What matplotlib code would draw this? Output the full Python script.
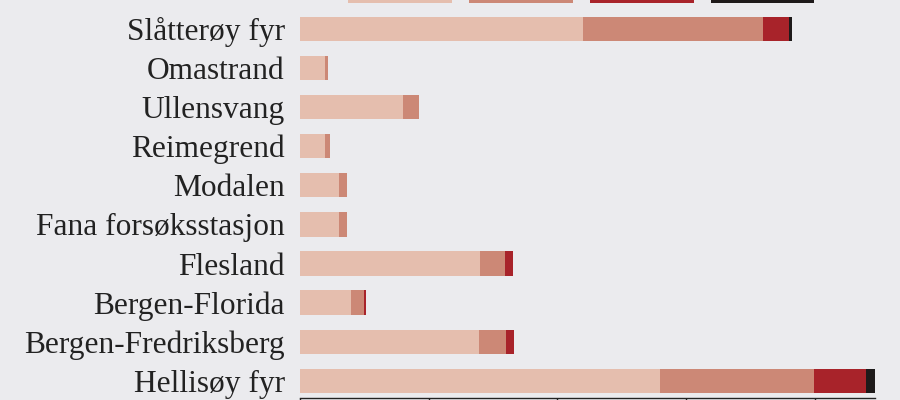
import numpy as np
import matplotlib
matplotlib.use("Agg")
import matplotlib.pyplot as plt
from matplotlib.patches import Patch

# stations, top to bottom
stations = [
    "Slåtterøy fyr", "Omastrand", "Ullensvang", "Reimegrend", "Modalen",
    "Fana forsøksstasjon", "Flesland", "Bergen-Florida",
    "Bergen-Fredriksberg", "Hellisøy fyr",
]
# four stacked classes (tick step = 100)
class_1 = [220, 19.4, 79.9, 19.4, 30.3, 30.3, 140, 39.7, 139.2, 279.6]
class_2 = [140, 2.6, 12.4, 3.9, 6.2, 6.2, 19.4, 10.1, 21.0, 120]
class_3 = [20, 0, 0, 0, 0, 0, 6.2, 1.3, 6.2, 40.4]
class_4 = [2.7, 0, 0, 0, 0, 0, 0, 0, 0, 7.0]

colors = ["#E5BEAE", "#CC8876", "#A8232A", "#1E1A1A"]
bg = "#EBEBEE"

plt.rcParams["font.family"] = ["Liberation Serif", "DejaVu Serif"]

fig = plt.figure(figsize=(9, 4), dpi=100, facecolor=bg)
ax = fig.add_axes([300 / 900, 2 / 400, 575 / 900, 398 / 400], facecolor=bg)

y = np.arange(len(stations))
left = np.zeros(len(stations))
for vals, c in zip([class_1, class_2, class_3, class_4], colors):
    vals = np.array(vals)
    ax.barh(y, vals, left=left, height=0.62, color=c, linewidth=0)
    left += vals

ax.set_ylim(9.44, -0.74)
ax.set_xlim(0, left.max())
ax.set_yticks(y)
ax.set_yticklabels(stations, fontsize=22.6, color="#222222")
ax.tick_params(axis="y", length=0, pad=11)
ax.set_xticks([0, 100, 200, 300, 400])
ax.tick_params(axis="x", length=8, width=1, color="#222222", labelbottom=False)
for s in ["top", "right", "left"]:
    ax.spines[s].set_visible(False)
ax.spines["bottom"].set_color("#222222")
ax.spines["bottom"].set_linewidth(1)

handles = [Patch(facecolor=c, edgecolor="none") for c in colors]
fig.legend(handles, [""] * 4, loc="lower left", ncol=4,
           bbox_to_anchor=(348 / 900, 397.5 / 400), frameon=False,
           fontsize=10, handlelength=7.48, handleheight=2.0,
           handletextpad=0, columnspacing=1.22, borderpad=0,
           borderaxespad=0)

fig.savefig("out.png", dpi=100, facecolor=bg)
